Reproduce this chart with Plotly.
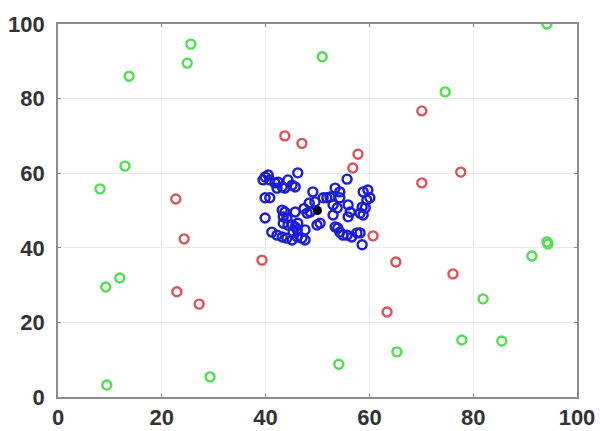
import plotly.graph_objects as go

# Outer scattered points (green)
green_x = [9.4, 9.2, 11.9, 8.1, 12.9, 13.7, 25.6, 24.9, 50.9, 74.6, 94.2, 94.2, 94.4,
           91.3, 81.9, 77.8, 85.5, 65.3, 54.1, 29.3]
green_y = [3.2, 29.5, 31.9, 55.8, 61.9, 86.0, 94.6, 89.5, 91.2, 81.8, 100.0, 41.6, 41.0,
           37.8, 26.3, 15.3, 15.0, 12.1, 8.8, 5.4]

# Intermediate ring (red)
red_x = [43.7, 47.0, 70.1, 57.8, 56.8, 70.1, 77.6, 60.7, 65.1, 76.1, 63.4,
         22.7, 24.3, 39.3, 22.9, 27.2]
red_y = [70.0, 68.0, 76.7, 65.1, 61.4, 57.4, 60.3, 43.2, 36.2, 33.0, 22.8,
         53.1, 42.4, 36.7, 28.2, 24.9]

# Dense central cluster (blue)
blue_x = [39.9, 40.5, 40.8, 39.5, 41.8, 42.4, 42.2, 43.2, 43.7, 44.3, 45.1, 45.7, 46.2,
          39.9, 40.8, 39.9,
          43.2, 43.7, 43.4, 44.1, 43.4, 44.3, 45.1, 45.7, 46.2, 45.3, 46.1,
          41.2, 42.2, 43.2, 44.1, 45.1, 46.1, 47.0, 47.6,
          48.0, 48.6, 45.7, 47.6, 48.4, 47.4,
          55.7, 53.4, 54.3, 51.8, 52.4, 51.1, 49.1, 49.5, 54.3,
          53.0, 53.8, 53.0, 55.9, 56.3, 55.9,
          58.8, 59.7, 60.1, 59.5, 58.6, 59.2, 58.2, 58.8,
          50.5, 49.9, 53.4, 53.9, 54.3, 54.9, 55.7, 56.6, 57.6, 58.2, 58.6]
blue_y = [59.0, 59.5, 58.2, 58.2, 57.4, 57.6, 56.0, 56.3, 56.0, 58.2, 56.8, 56.3, 60.1,
          53.4, 53.4, 48.0,
          50.1, 49.6, 48.3, 48.0, 46.6, 46.1, 46.1, 45.6, 46.6, 44.2, 44.8,
          44.2, 43.4, 42.9, 42.6, 42.1, 42.9, 42.6, 42.1,
          49.3, 49.6, 49.6, 44.8, 52.0, 50.5,
          58.4, 56.0, 55.0, 53.4, 53.6, 53.4, 55.0, 52.3, 53.4,
          51.5, 50.7, 48.8, 51.5, 49.6, 48.3,
          55.0, 55.5, 53.4, 52.8, 50.9, 50.7, 49.3, 48.8,
          46.6, 46.1, 45.6, 45.3, 44.2, 43.4, 43.4, 42.9, 44.0, 44.0, 40.8]

# Cluster centre (black)
center_x = [50.0]
center_y = [50.0]

tick_vals = [0, 20, 40, 60, 80, 100]
tick_text = ["0", "20", "40", "60", "80", "100"]

fig = go.Figure()

ring_marker = dict(symbol="circle-open", size=9, line=dict(width=2.4))

fig.add_trace(go.Scatter(x=green_x, y=green_y, mode="markers",
                         marker=dict(ring_marker, color="#4fe04f"),
                         hoverinfo="x+y"))
fig.add_trace(go.Scatter(x=red_x, y=red_y, mode="markers",
                         marker=dict(ring_marker, color="#d9555a"),
                         hoverinfo="x+y"))
fig.add_trace(go.Scatter(x=blue_x, y=blue_y, mode="markers",
                         marker=dict(ring_marker, color="#1c1cd6"),
                         hoverinfo="x+y"))
fig.add_trace(go.Scatter(x=center_x, y=center_y, mode="markers",
                         marker=dict(symbol="circle", size=9, color="#000000"),
                         hoverinfo="x+y"))

axis_style = dict(
    range=[0, 100],
    tickvals=tick_vals,
    ticktext=tick_text,
    showgrid=True,
    gridcolor="#ebebeb",
    gridwidth=1,
    zeroline=False,
    showline=True,
    linecolor="#8c8c8c",
    linewidth=1.8,
    mirror="allticks",
    ticks="inside",
    ticklen=3,
    tickcolor="#8c8c8c",
    tickfont=dict(family="Liberation Sans, Arial, sans-serif", size=22,
                  color="#333333", weight="bold"),
    automargin=False,
    fixedrange=True,
)

fig.update_xaxes(**axis_style)
fig.update_yaxes(**axis_style)
fig.update_xaxes(ticklabelstandoff=0)
fig.update_yaxes(ticklabelstandoff=7)

fig.update_layout(
    width=600,
    height=431,
    margin=dict(l=58, r=23, t=24, b=34),
    paper_bgcolor="white",
    plot_bgcolor="white",
    showlegend=False,
)

fig.write_html("out.html")
